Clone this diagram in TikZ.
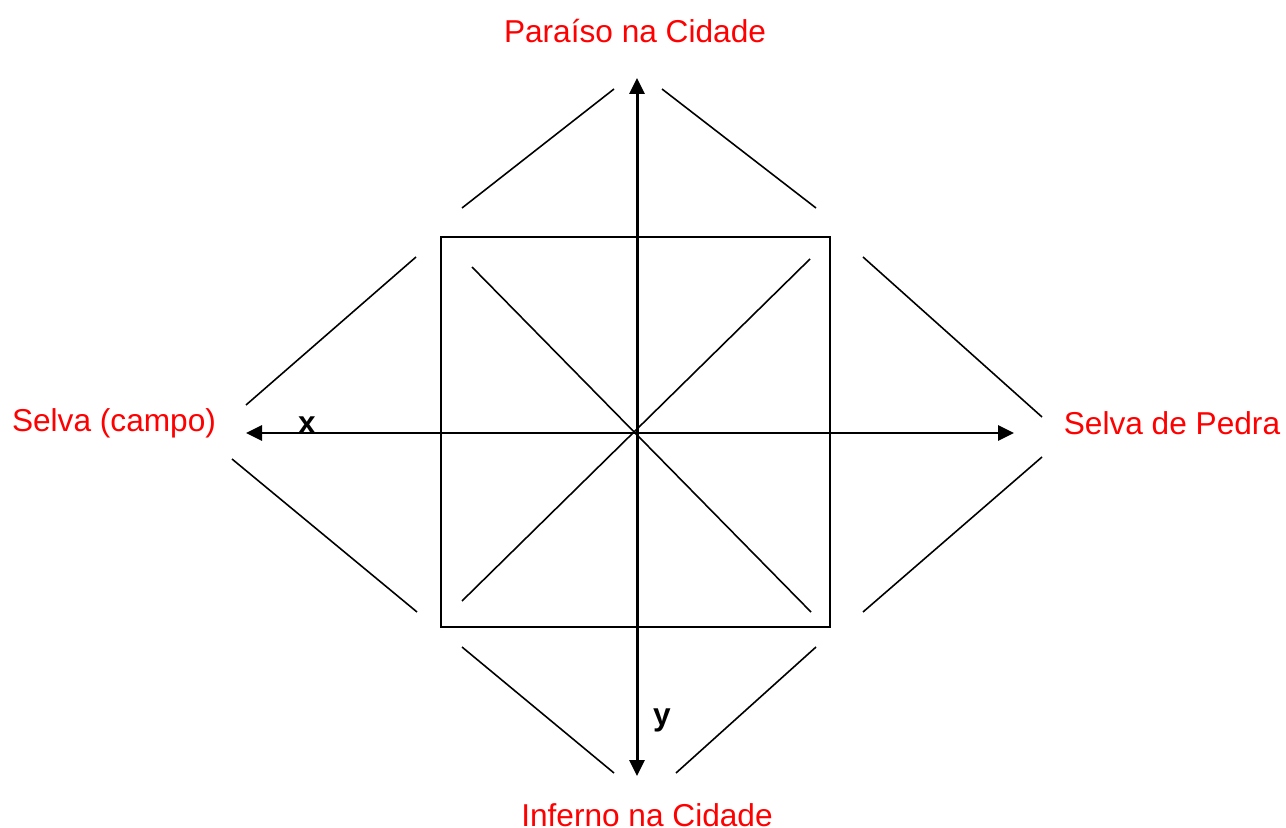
\documentclass[tikz,border=0pt]{standalone}
\usepackage{fontspec}
\setmainfont{Liberation Sans}
\usetikzlibrary{arrows.meta}
\tikzset{
	pole/.style={text=red, font=\fontsize{9pt}{11pt}\selectfont, inner sep=0pt},
	axislabel/.style={font=\fontsize{9pt}{11pt}\selectfont\bfseries, inner sep=0pt},
	thinline/.style={line width=0.45pt},
	axis/.style={line width=0.85pt, {Triangle[length=1.6mm,width=1.5mm]}-{Triangle[length=1.6mm,width=1.5mm]}}
}
\begin{document}
\begin{tikzpicture}[x=0.1mm, y=-0.1mm]
				\useasboundingbox (0,0) rectangle (1286,828);
				% axis end points
				\coordinate (top) at (637,78);
				\coordinate (bottom) at (637,776);
				\coordinate (left) at (246,433);
				\coordinate (right) at (1014,433);
				% square and diagonals
				\draw[line width=0.6pt] (441,237) rectangle (830,627);
				\draw[thinline] (472,267) -- (811,612);
				\draw[thinline] (810,259) -- (462,601);
				% outer lines
				\draw[thinline] (462,208) -- (614,89);
				\draw[thinline] (662,89) -- (816,208);
				\draw[thinline] (416,257) -- (246,405);
				\draw[thinline] (863,257) -- (1042,417);
				\draw[thinline] (232,459) -- (417,612);
				\draw[thinline] (863,612) -- (1042,457);
				\draw[thinline] (462,647) -- (614,773);
				\draw[thinline] (676,773) -- (816,647);
				% axes
				\draw[axis] (bottom) -- (top);
				\draw[axis] (left) -- (right);
				% labels
				\node[pole] (paraiso) at (635,31) {Paraíso na Cidade};
				\node[pole] (inferno) at (647,815) {Inferno na Cidade};
				\node[pole] (selvacampo) at (114,423) {Selva (campo)};
				\node[pole] (selvapedra) at (1172,423) {Selva de Pedra};
				\node[axislabel] (labelx) at (307,425) {x};
				\node[axislabel] (labely) at (662,720) {y};
\end{tikzpicture}
\end{document}
